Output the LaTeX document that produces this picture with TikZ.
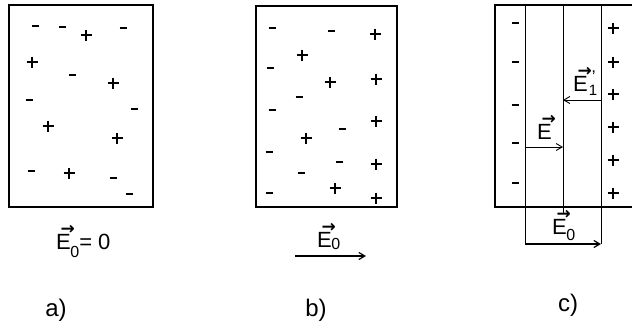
\documentclass[tikz,border=0pt]{standalone}
\usepackage{fontspec}
\setmainfont{Liberation Sans}
\newfontfamily\arrfont{DejaVu Sans}
\usetikzlibrary{arrows.meta}

% E with a small bold arrow over it
\newcommand{\arrowE}{\setbox0\hbox{E}\rlap{\kern4pt\raise\dimexpr\ht0-1pt\relax\hbox to \wd0{\hss\arrfont\bfseries\fontsize{17}{17}\selectfont →}}E}
% vector E with index #1 dropped by #2
\newcommand{\vecE}[2]{\arrowE\kern-0.5pt\lower#2\hbox{\fontsize{16}{16}\selectfont #1}}
\newcommand{\vecEp}[1]{\arrowE\kern1pt\rlap{\kern3pt\raise9pt\hbox{\fontsize{17}{17}\selectfont '}}\lower4pt\hbox{\fontsize{15}{15}\selectfont #1}}

\begin{document}
\begin{tikzpicture}[x=1pt, y=-1pt,
    lbl/.style   = {font=\fontsize{22}{26}\selectfont, inner sep=0pt, anchor=base west},
    tag/.style   = {font=\fontsize{24}{28}\selectfont, inner sep=0pt},
    frame/.style = {line width=2pt},
    wall/.style  = {line width=0.8pt},
    field/.style = {line width=1.2pt, -{Straight Barb[length=6pt,width=7pt]}},
    plus/.pic    = {\draw[line width=2.2pt] (-5.5,0) -- (5.5,0) (0,-5.5) -- (0,5.5);},
    minus/.pic   = {\draw[line width=2.2pt] (-3.5,0) -- (3.5,0);},
]
\useasboundingbox (0,0) rectangle (632,322);

% ---------------- a) no field ----------------
\draw[frame] (9,5) rectangle (153,207);
\foreach \x/\y in {35/26, 62/27, 123/28, 72/75, 29/100, 134/109, 31/171, 113/178, 129/194}
    \pic at (\x,\y) {minus};
\foreach \x/\y in {86/35, 32/62, 113/83, 48/126, 117/138, 69/173}
    \pic at (\x,\y) {plus};
\node[lbl] (fielda) at (56,249) {\vecE{0}{8pt}= 0};
\node[tag] (taga) at (56,310) {a)};

% ---------------- b) charges shifted ----------------
\draw[frame] (256,6) rectangle (397,207);
\foreach \x/\y in {272/28, 331/31, 270/68, 299/97, 272/110, 342/129, 269/152, 339/162, 301/173, 269/193}
    \pic at (\x,\y) {minus};
\foreach \x/\y in {375/34, 302/55, 376/79, 330/82, 376/121, 306/138, 376/164, 335/188, 376/198}
    \pic at (\x,\y) {plus};
\node[lbl] (fieldb) at (317,247) {\vecE{0}{2pt}};
\coordinate (b0) at (295,256);
\coordinate (b1) at (366,256);
\draw[field] (b0) -- (b1);
\node[tag] (tagb) at (316,310) {b)};

% ---------------- c) surface charges ----------------
\draw[frame] (632,5) -- (495,5) -- (495,207) -- (632,207);
\coordinate (w1t) at (525,5);
\coordinate (w1b) at (525,244);
\coordinate (w2t) at (563,5);
\coordinate (w2b) at (563,213);
\coordinate (w3t) at (601,5);
\coordinate (w3b) at (601,244);
\draw[wall] (w1t) -- (w1b);
\draw[wall] (w2t) -- (w2b);
\draw[wall] (w3t) -- (w3b);
\foreach \y in {23, 62, 105, 143, 183}
    \pic at (515,\y) {minus};
\foreach \y in {28, 62, 94, 127, 160, 193}
    \pic at (613,\y) {plus};

\draw[field, line width=0.9pt] (w1b |- 0,147) coordinate (e0) -- (w2b |- 0,147) coordinate (e1);
\node[lbl] (fieldE) at (537,139) {\arrowE};
\draw[field, line width=0.9pt] (w3b |- 0,100) coordinate (p0) -- (w2b |- 0,100) coordinate (p1);
\node[lbl] (fieldE1) at (573,91) {\vecEp{1}};
\draw[field] (w1b) -- (w3b);
\node[lbl] (fieldc) at (552,234) {\vecE{0}{6pt}};
\node[tag] (tagc) at (568,305) {c)};
\end{tikzpicture}
\end{document}
